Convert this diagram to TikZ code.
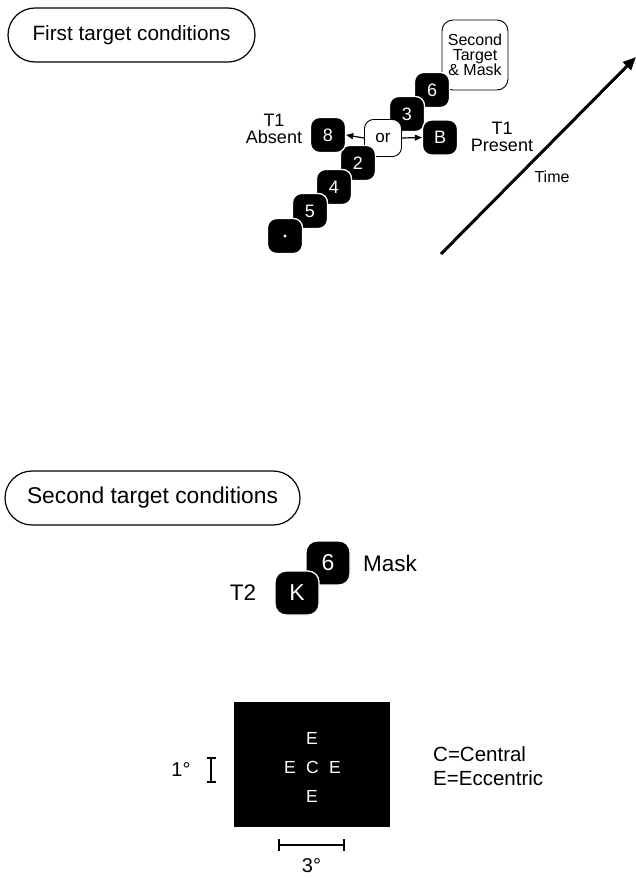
\documentclass[tikz,border=0pt]{standalone}
\usepackage{fontspec}
\setmainfont{Liberation Sans}
\usetikzlibrary{arrows.meta}

\tikzset{
  card/.style={fill=black, draw=white, line width=1.3pt, rounded corners=9pt,
    minimum size=35pt, inner sep=0pt, text=white, font=\fontsize{18}{18}\selectfont},
  bigcard/.style={card, minimum size=44pt, rounded corners=11pt,
    font=\fontsize{23}{23}\selectfont},
  choice/.style={fill=white, draw=black, line width=0.9pt, rounded corners=9pt,
    minimum size=37pt, inner sep=0pt, font=\fontsize{17}{17}\selectfont},
  pill/.style={draw=black, line width=1.2pt, rounded corners=27pt,
    minimum height=54pt, inner sep=0pt},
  lbl/.style={inner sep=0pt, align=center},
  branch/.style={line width=1.2pt, -{Triangle[length=7pt,width=6pt]}},
  scalebar/.style={line width=2.4pt},
}

\begin{document}
\begin{tikzpicture}[x=1pt,y=-1pt]
\useasboundingbox (0,0) rectangle (636,878);

% ---------- first target conditions ----------
\node[pill, minimum width=247pt, font=\fontsize{20.7}{20.7}\selectfont]
  (head1) at (131.5,35) {First target conditions};

% final frame of the stream
\node[choice, minimum width=66pt, minimum height=70pt, rounded corners=11pt,
  font=\fontsize{16}{14.5}\selectfont, align=center] (t2box) at (475,55)
  {Second\\Target\\\& Mask};

% the stream, later frames first so earlier ones sit in front
\node[card] (s6) at (432,90) {6};
\node[card] (s3) at (407,114) {3};
\node[choice] (or) at (383,138) {or};
\node[card] (s2) at (358,163) {2};
\node[card] (s4) at (334,187) {4};
\node[card] (s5) at (310,211) {5};
\node[card] (fix) at (285,236) {};
\fill[white] (fix.center) circle (1.6pt);

% the two alternatives for the first target
\node[card] (s8) at (328,135) {8};
\node[card] (sB) at (440,137.5) {B};
\draw[branch] (or.west) -- (s8.east);
\draw[branch] (or.east) -- (sB.west);

\node[lbl, font=\fontsize{18}{16.5}\selectfont] (absent) at (274,129) {T1\\Absent};
\node[lbl, font=\fontsize{18}{17}\selectfont] (present) at (502,137) {T1\\Present};

% time axis
\coordinate (t0) at (441,254);
\coordinate (t1) at (636,57);
\draw[line width=3pt, -{Triangle[length=13pt,width=11pt]}] (t0) -- (t1);
\node[lbl, font=\fontsize{16}{16}\selectfont] (time) at (552,177) {Time};

% ---------- second target conditions ----------
\node[pill, minimum width=295pt, font=\fontsize{22.8}{22.8}\selectfont]
  (head2) at (152.5,498) {Second target conditions};

\node[bigcard] (mask) at (328,563) {6};
\node[bigcard] (t2) at (297,593) {K};
\node[lbl, font=\fontsize{22.5}{22.5}\selectfont] (masklbl) at (390,563) {Mask};
\node[lbl, font=\fontsize{22.5}{22.5}\selectfont] (t2lbl) at (243,593) {T2};

% display with target positions
\node[fill=black, minimum width=156pt, minimum height=125pt, inner sep=0pt]
  (display) at (311.5,764.5) {};
\begin{scope}[every node/.style={lbl, text=white, font=\fontsize{17.5}{17.5}\selectfont}]
  \node (eTop) at (312,738) {E};
  \node (eLeft) at (290,767) {E};
  \node (cMid) at (312.5,767) {C};
  \node (eRight) at (335,767) {E};
  \node (eBot) at (312,796) {E};
\end{scope}

\node[lbl, font=\fontsize{20.5}{24}\selectfont, align=left, anchor=west]
  (legend) at (433,766.5) {C=Central\\E=Eccentric};

% scale bars
\coordinate (v0) at (211,758);
\coordinate (v1) at (211,782);
\draw[scalebar] (v0) -- (v1);
\draw[scalebar] ([xshift=-4.5pt]v0) -- ([xshift=4.5pt]v0);
\draw[scalebar] ([xshift=-4.5pt]v1) -- ([xshift=4.5pt]v1);
\node[lbl, font=\fontsize{20}{20}\selectfont] (onedeg) at (181,770) {1°};

\coordinate (h0) at (279,845);
\coordinate (h1) at (344,845);
\draw[scalebar] (h0) -- (h1);
\draw[line width=1.8pt] ([yshift=-6pt]h0) -- ([yshift=6pt]h0);
\draw[line width=1.8pt] ([yshift=-6pt]h1) -- ([yshift=6pt]h1);
\node[lbl, font=\fontsize{20}{20}\selectfont] (threedeg) at (311.5,866) {3°};
\end{tikzpicture}
\end{document}
